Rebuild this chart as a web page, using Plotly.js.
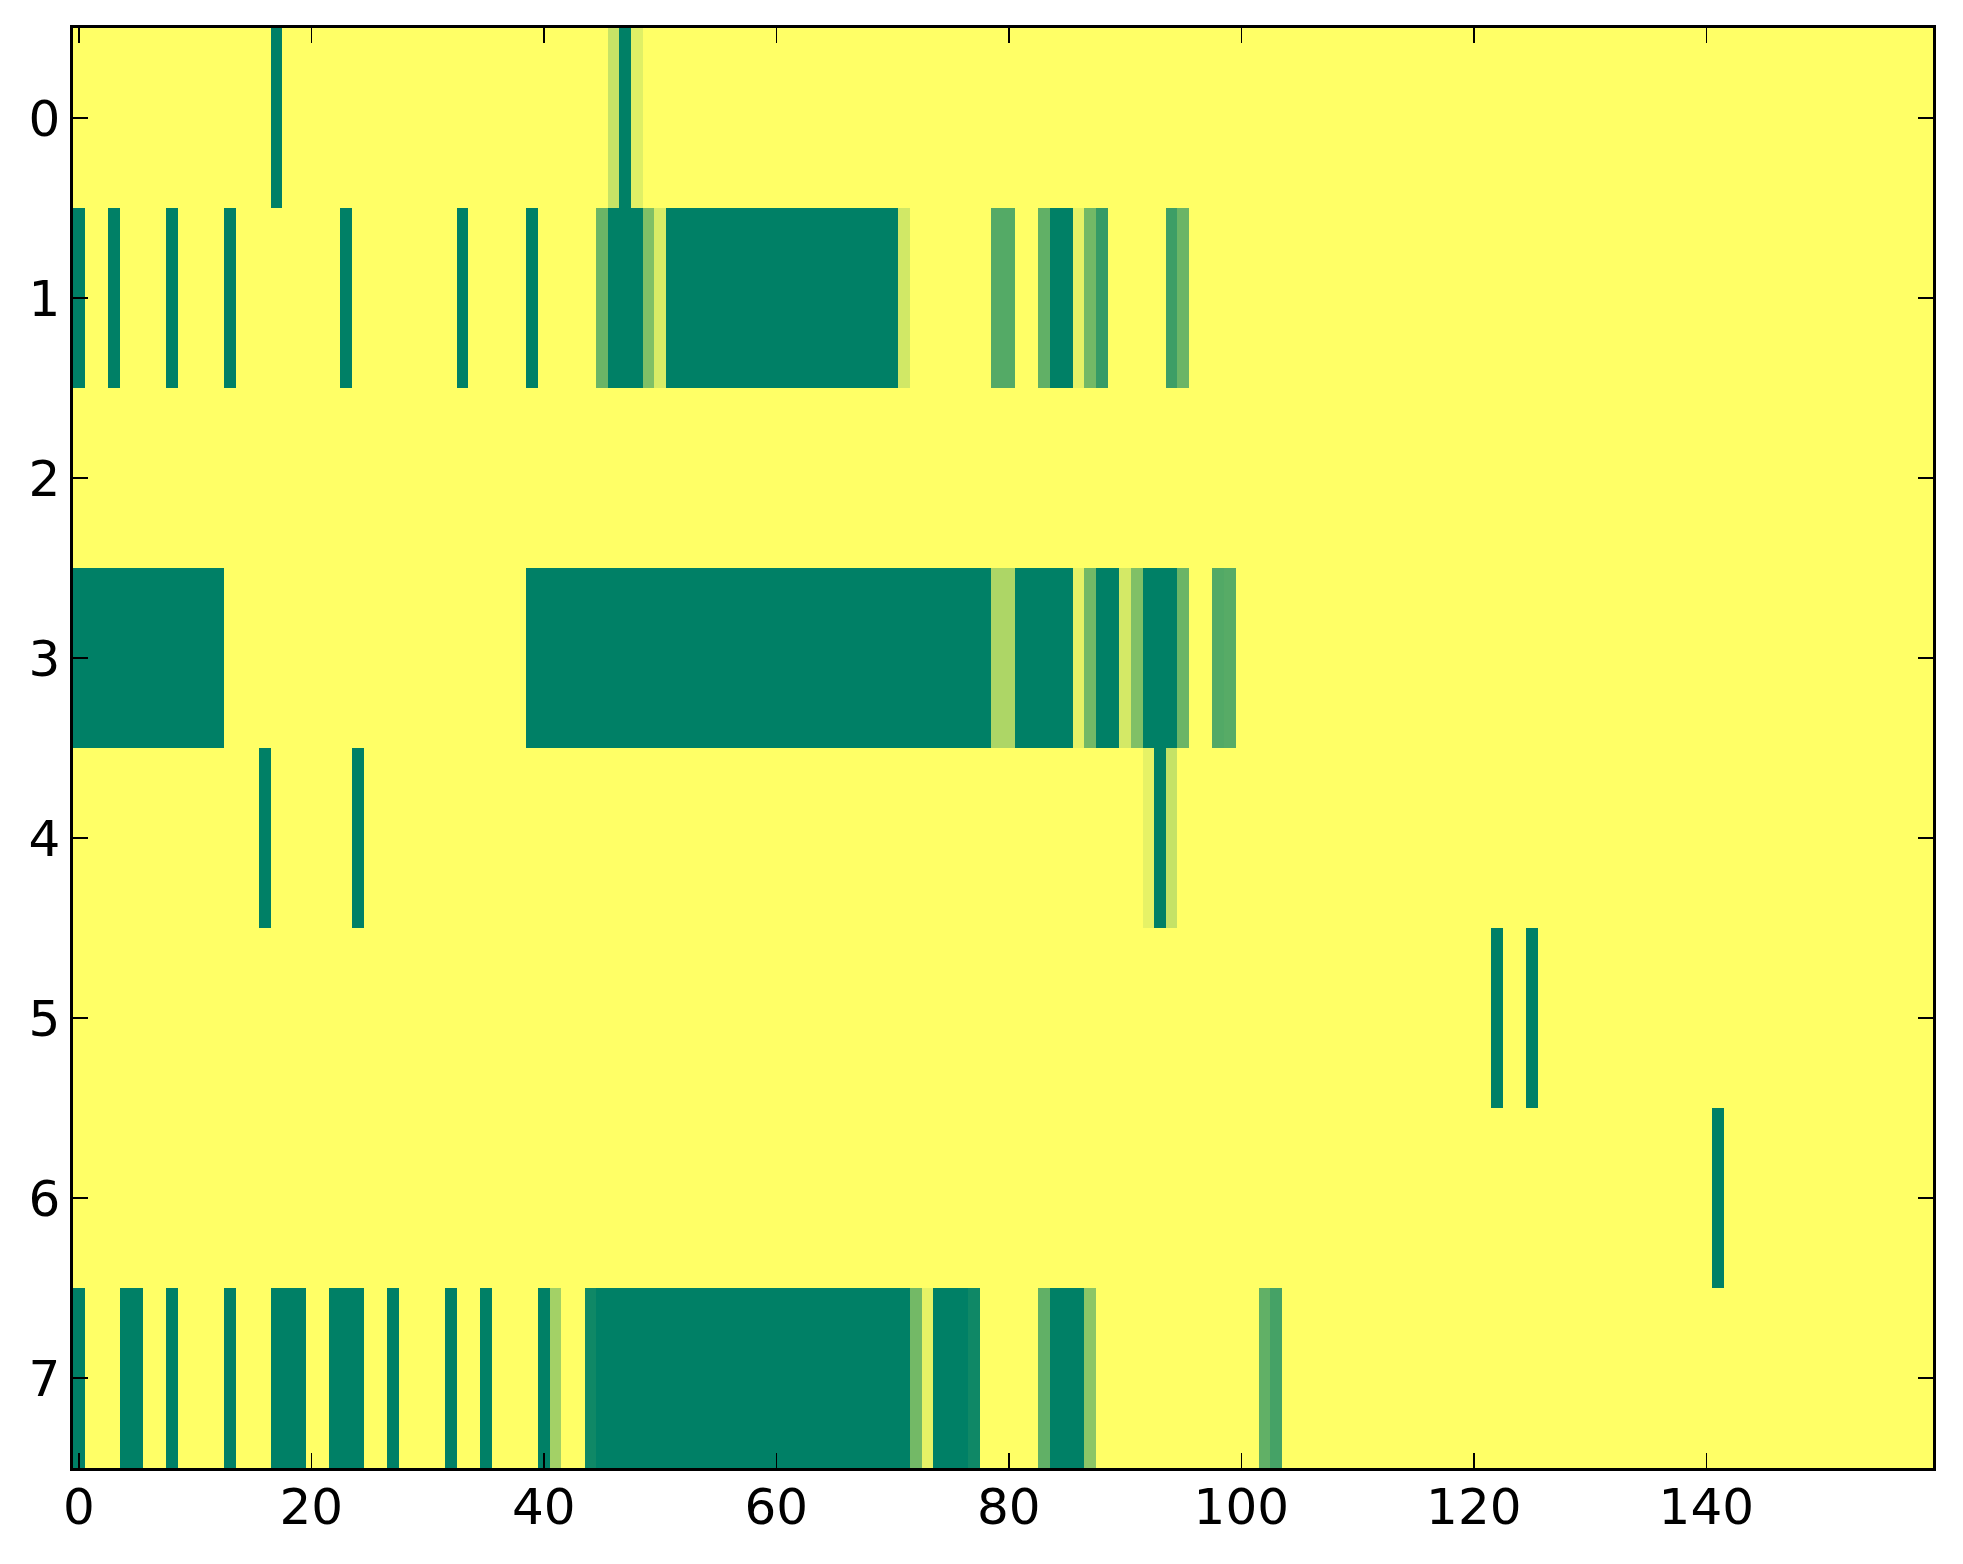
<!DOCTYPE html>
<html>
<head>
<meta charset="utf-8">
<script src="https://cdn.plot.ly/plotly-3.0.1.min.js"></script>
<style>
  html, body { margin: 0; padding: 0; background: #ffffff; }
  #chart { width: 1963px; height: 1564px; }
</style>
</head>
<body>
<div id="chart"></div>
<script>
// Grid size
const nCols = 160;
const rowLabels = [0, 1, 2, 3, 4, 5, 6, 7];
const xTicks = [0, 20, 40, 60, 80, 100, 120, 140];

// Non-zero runs per row: [firstCol, lastCol, value]  (value 0 = yellow, 1 = dark green)
const row0 = [[17,17,1],[46,46,0.22],[47,47,1],[48,48,0.12]];
const row1 = [[0,0,1],[3,3,1],[8,8,1],[13,13,1],[23,23,1],[33,33,1],[39,39,1],
              [45,45,0.58],[46,48,1],[49,49,0.5],[50,50,0.15],[51,70,1],[71,71,0.18],
              [79,80,0.67],[83,83,0.62],[84,85,1],[86,86,0.1],[87,87,0.55],[88,88,0.79],
              [94,94,0.76],[95,95,0.58]];
const row2 = [];
const row3 = [[0,12,1],[39,78,1],[79,80,0.32],[81,85,1],[86,86,0.1],[87,87,0.55],
              [88,89,1],[90,90,0.17],[91,91,0.5],[92,94,1],[95,95,0.58],[98,98,0.68],[99,99,0.66]];
const row4 = [[16,16,1],[24,24,1],[92,92,0.1],[93,93,1],[94,94,0.23]];
const row5 = [[122,122,1],[125,125,1]];
const row6 = [[141,141,1]];
const row7 = [[0,0,1],[4,5,1],[8,8,1],[13,13,1],[17,19,1],[22,24,1],[27,27,1],[32,32,1],
              [35,35,1],[40,40,1],[41,41,0.36],[44,44,0.94],[45,71,1],[72,72,0.55],[73,73,0.1],
              [74,76,1],[77,77,0.94],[83,83,0.62],[84,86,1],[87,87,0.45],[102,102,0.62],[103,103,0.73]];

const rows = [row0, row1, row2, row3, row4, row5, row6, row7];

// Build the z matrix from the runs
const z = rows.map(runs => {
  const r = new Array(nCols).fill(0);
  runs.forEach(([a, b, v]) => { for (let c = a; c <= b; c++) r[c] = v; });
  return r;
});
const xs = Array.from({length: nCols}, (_, i) => i);

const trace = {
  type: 'heatmap',
  z: z,
  x: xs,
  y: rowLabels,
  zmin: 0,
  zmax: 1,
  colorscale: [[0, 'rgb(255,255,102)'], [1, 'rgb(0,128,102)']],
  showscale: false,
  hoverinfo: 'skip'
};

const axisCommon = {
  showline: true,
  linecolor: '#000000',
  linewidth: 2.7,
  mirror: 'allticks',
  ticks: 'inside',
  ticklen: 15,
  tickwidth: 1.6,
  tickcolor: '#000000',
  showgrid: false,
  zeroline: false,
  tickfont: { family: 'DejaVu Sans', size: 50, color: '#000000' }
};

const layout = {
  width: 1963,
  height: 1564,
  margin: { l: 73, r: 30, t: 28, b: 96, pad: 0 },
  paper_bgcolor: '#ffffff',
  plot_bgcolor: '#ffffff',
  showlegend: false,
  xaxis: Object.assign({}, axisCommon, {
    range: [-0.5, nCols - 0.5],
    tickmode: 'array',
    tickvals: xTicks,
    ticktext: xTicks.map(String),
    ticklabelstandoff: -7
  }),
  yaxis: Object.assign({}, axisCommon, {
    range: [7.5, -0.5],
    tickmode: 'array',
    tickvals: rowLabels,
    ticktext: rowLabels.map(String),
    ticklabelstandoff: 0
  })
};

Plotly.newPlot('chart', [trace], layout, { staticPlot: true, displayModeBar: false });
</script>
</body>
</html>
